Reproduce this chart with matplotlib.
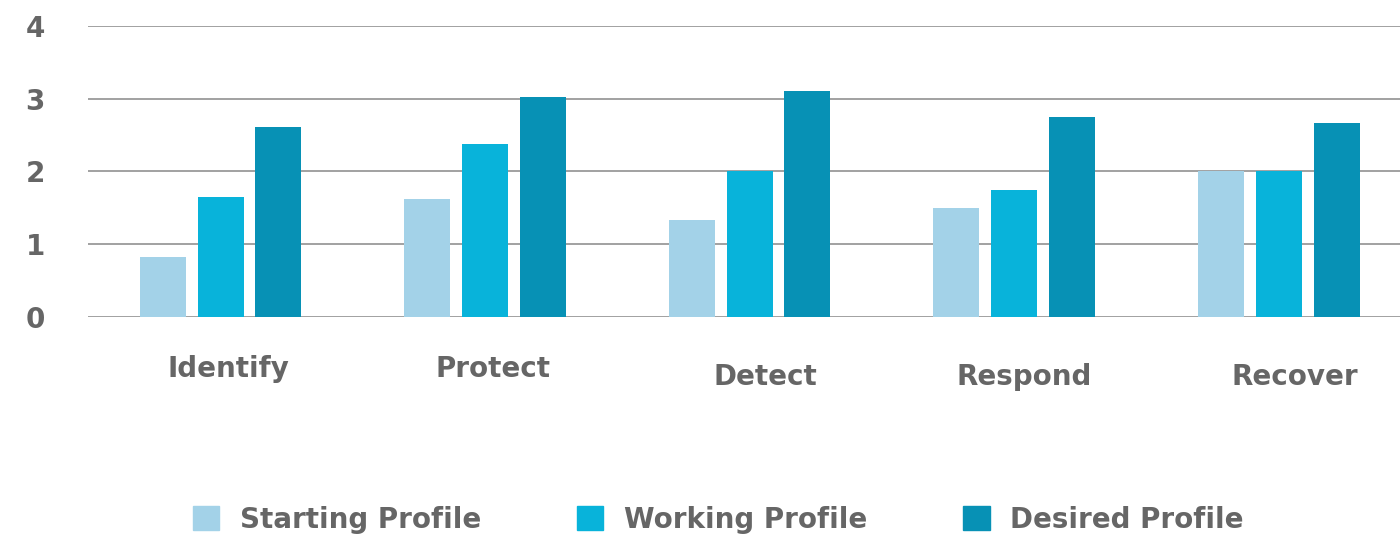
import numpy as np
import matplotlib
matplotlib.use("Agg")
import matplotlib.pyplot as plt
from matplotlib.patches import Patch

categories = ["Identify", "Protect", "Detect", "Respond", "Recover"]
starting = [0.82, 1.62, 1.33, 1.49, 2.0]
working = [1.65, 2.37, 2.0, 1.75, 2.0]
desired = [2.61, 3.02, 3.10, 2.74, 2.66]
series = ["Starting Profile", "Working Profile", "Desired Profile"]
colors = ["#a3d2e8", "#08b3da", "#0791b5"]

TXT = "#666666"
plt.rcParams.update({"font.family": ["DejaVu Sans"], "font.weight": "bold"})

fig = plt.figure(figsize=(14, 5.39), dpi=100)
ax = fig.add_axes([88 / 1400, 1 - 317 / 539, 1 - 88 / 1400, (317 - 25.7) / 539])

x = np.arange(len(categories))
w, step = 0.174, 0.219
for k, (vals, c) in enumerate(zip([starting, working, desired], colors)):
    ax.bar(x + (k - 1) * step, vals, w, color=c, zorder=3)

ax.set_ylim(0, 4)
ax.set_xlim(-0.501, 4.459)
for y in range(5):
    ax.axhline(y, color="#9a9a9a", lw=1.3, zorder=1)
for s in ax.spines.values():
    s.set_visible(False)
ax.set_yticks(range(5))
ax.set_yticklabels([str(i) for i in range(5)], fontsize=20, color=TXT, fontweight="bold")
ax.tick_params(axis="y", length=0, pad=31)
ax.set_xticks([])

# label offsets as in the original layout
dx = [0.03, 0.03, 0.06, 0.04, 0.06]
ly = [-0.72, -0.72, -0.83, -0.83, -0.83]
for i, lab in enumerate(categories):
    ax.text(i + dx[i], ly[i], lab, ha="center", va="center", fontsize=20,
            color=TXT, fontweight="bold", clip_on=False)

handles = [Patch(color=c) for c in colors]
fig.legend(handles, series, loc="center", bbox_to_anchor=(0.513, 1 - 520 / 539),
           ncol=3, frameon=False, fontsize=20, handlelength=0.95, handleheight=0.95,
           handletextpad=0.75, columnspacing=3.45, labelcolor=TXT)

fig.savefig("out.png", dpi=100)
